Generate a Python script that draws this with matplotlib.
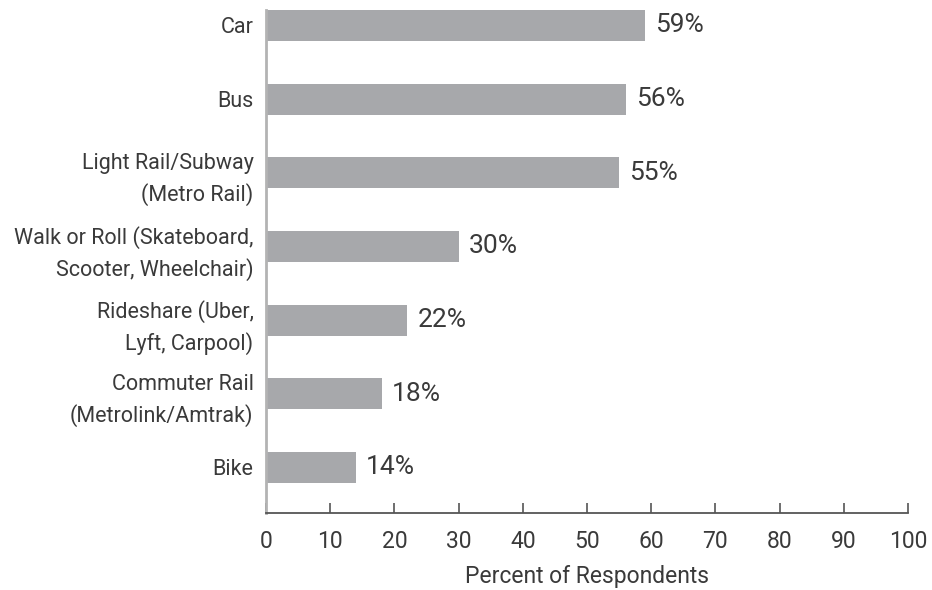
import matplotlib.pyplot as plt

# ----- Dati -----
modes = ["Car", "Bus", "Light Rail/Subway\n(Metro Rail)",
         "Walk or Roll (Skateboard,\nScooter, Wheelchair)",
         "Rideshare (Uber,\nLyft, Carpool)",
         "Commuter Rail\n(Metrolink/Amtrak)", "Bike"]
percents = [59, 56, 55, 30, 22, 18, 14]
x_ticks = [0, 10, 20, 30, 40, 50, 60, 70, 80, 90, 100]

plt.rcParams['font.family'] = ['Roboto', 'DejaVu Sans']

text_col = "#3a3a3a"
bar_col = "#a7a8ab"

fig = plt.figure(figsize=(9.32, 5.9), dpi=100)
ax = fig.add_axes([266/932, 1 - 513/590, 642/932, 503/590])

y_pos = list(range(len(modes)))
ax.barh(y_pos, percents, height=0.42, color=bar_col, zorder=2)
for y, v in zip(y_pos, percents):
    ax.text(v + 1.6, y, f"{v}%", va="center", ha="left",
            fontsize=19, color=text_col)

ax.set_xlim(0, 100)
ax.set_ylim(6.62, -0.21)
ax.set_yticks(y_pos)
ax.set_yticklabels(modes, fontsize=15.5, color=text_col, linespacing=1.5)
ax.tick_params(axis="y", length=0, pad=9)
ax.set_xticks(x_ticks)
ax.tick_params(axis="x", direction="in", length=7, width=1.2, color="#555555",
               labelsize=16.5, labelcolor=text_col, pad=12)
ax.set_xlabel("Percent of Respondents", fontsize=16.5, color=text_col, labelpad=9)

for s in ["top", "right"]:
    ax.spines[s].set_visible(False)
ax.spines["left"].set_color("#b3b3b3")
ax.spines["left"].set_linewidth(2)
ax.spines["bottom"].set_color("#555555")
ax.spines["bottom"].set_linewidth(1.3)

plt.savefig("out.png", dpi=100)
